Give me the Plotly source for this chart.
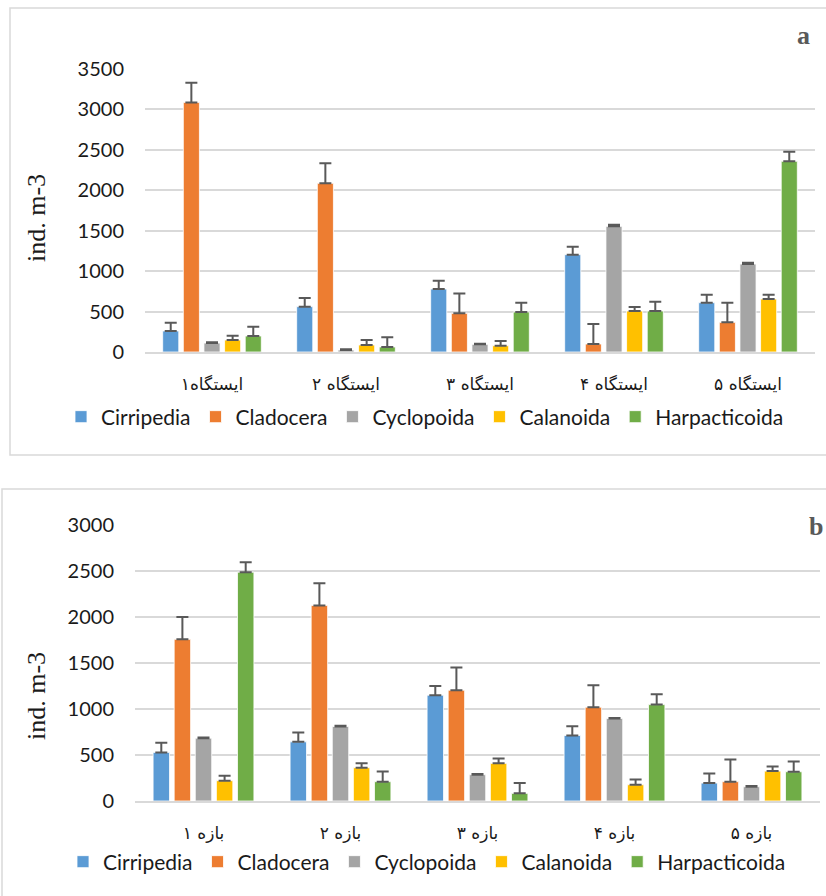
import plotly.graph_objects as go

# ---------------- data ----------------
series = ["Cirripedia", "Cladocera", "Cyclopoida", "Calanoida", "Harpacticoida"]
colors = ["#5B9BD5", "#ED7D31", "#A5A5A5", "#FFC000", "#70AD47"]

stations_a = ["ایستگاه۱", "ایستگاه ۲", "ایستگاه ۳", "ایستگاه ۴", "ایستگاه ۵"]
a_cirripedia = [260, 561, 779, 1204, 610]
a_cladocera = [3087, 2086, 478, 99, 367]
a_cyclopoida = [111, 25, 95, 1554, 1088]
a_calanoida = [148, 87, 78, 507, 655]
a_harpacticoida = [198, 62, 495, 507, 2358]
a_err_cirripedia = [103, 107, 103, 99, 99]
a_err_cladocera = [244, 247, 247, 247, 243]
a_err_cyclopoida = [9, 8, 8, 21, 17]
a_err_calanoida = [54, 61, 58, 49, 54]
a_err_harpacticoida = [115, 119, 115, 115, 119]

ranges_b = ["بازه ۱", "بازه ۲", "بازه ۳", "بازه ۴", "بازه ۵"]
b_cirripedia = [528, 643, 1150, 712, 195]
b_cladocera = [1757, 2126, 1204, 1020, 210]
b_cyclopoida = [683, 810, 286, 897, 155]
b_calanoida = [221, 362, 409, 177, 325]
b_harpacticoida = [2487, 210, 83, 1048, 318]
b_err_cirripedia = [105, 102, 101, 101, 105]
b_err_cladocera = [242, 242, 246, 238, 242]
b_err_cyclopoida = [7, 7, 7, 5, 8]
b_err_calanoida = [54, 47, 54, 58, 51]
b_err_harpacticoida = [109, 112, 112, 112, 112]

a_vals = [a_cirripedia, a_cladocera, a_cyclopoida, a_calanoida, a_harpacticoida]
a_errs = [a_err_cirripedia, a_err_cladocera, a_err_cyclopoida, a_err_calanoida, a_err_harpacticoida]
b_vals = [b_cirripedia, b_cladocera, b_cyclopoida, b_calanoida, b_harpacticoida]
b_errs = [b_err_cirripedia, b_err_cladocera, b_err_cyclopoida, b_err_calanoida, b_err_harpacticoida]

W, H = 826, 896
def px(x):
    return x / W
def py(y):
    return 1 - y / H

fig = go.Figure()
err_style = dict(type="data", symmetric=False, color="#595959", thickness=2, width=6)

for name, col, v, e in zip(series, colors, a_vals, a_errs):
    fig.add_trace(go.Bar(
        x=stations_a, y=v, name=name, marker=dict(color=col, line=dict(color="white", width=0.8)),
        error_y=dict(array=e, arrayminus=[0] * len(e), **err_style),
        xaxis="x", yaxis="y", legend="legend"))

for name, col, v, e in zip(series, colors, b_vals, b_errs):
    fig.add_trace(go.Bar(
        x=ranges_b, y=v, name=name, marker=dict(color=col, line=dict(color="white", width=0.8)),
        error_y=dict(array=e, arrayminus=[0] * len(e), **err_style),
        xaxis="x2", yaxis="y2", legend="legend2"))

tick_font = dict(family="Lato", size=20, color="#1a1a1a")
xtick_font = dict(family="DejaVu Sans", size=17, color="#1a1a1a")
grid = "#D9D9D9"

fig.update_layout(
    width=W, height=H,
    margin=dict(l=0, r=0, t=0, b=0, autoexpand=False),
    paper_bgcolor="white", plot_bgcolor="white",
    barmode="group", bargap=0.23, bargroupgap=0.22,
    xaxis=dict(domain=[px(145), px(815)], anchor="y", showgrid=False, showline=True,
               linecolor=grid, linewidth=1.5, tickfont=xtick_font, ticks="",
               ticklabelstandoff=16, automargin=False),
    yaxis=dict(domain=[py(352), py(69)], anchor="x", range=[0, 3500], dtick=500,
               showgrid=True, gridcolor=grid, gridwidth=1.5, zeroline=False,
               showline=False, tickfont=tick_font, ticklabelstandoff=20, automargin=False),
    xaxis2=dict(domain=[px(135), px(820)], anchor="y2", showgrid=False, showline=True,
                linecolor=grid, linewidth=1.5, tickfont=xtick_font, ticks="",
                ticklabelstandoff=16, automargin=False),
    yaxis2=dict(domain=[py(801), py(525)], anchor="x2", range=[0, 3000], dtick=500,
                showgrid=True, gridcolor=grid, gridwidth=1.5, zeroline=False,
                showline=False, tickfont=tick_font, ticklabelstandoff=20, automargin=False),
    legend=dict(orientation="h", x=px(425), xanchor="center", y=py(417), yanchor="middle",
                font=dict(family="Lato", size=21, color="#1a1a1a"), itemwidth=30,
                bgcolor="rgba(0,0,0,0)"),
    legend2=dict(orientation="h", x=px(427), xanchor="center", y=py(862), yanchor="middle",
                 font=dict(family="Lato", size=21, color="#1a1a1a"), itemwidth=30,
                 bgcolor="rgba(0,0,0,0)"),
    shapes=[
        dict(type="rect", xref="paper", yref="paper", x0=px(10), x1=px(840), y0=py(455), y1=py(8),
             line=dict(color=grid, width=1.5), fillcolor="rgba(0,0,0,0)", layer="below"),
        dict(type="rect", xref="paper", yref="paper", x0=px(2), x1=px(840), y0=py(910), y1=py(489),
             line=dict(color=grid, width=1.5), fillcolor="rgba(0,0,0,0)", layer="below"),
    ],
    annotations=[
        dict(text="ind. m-3", xref="paper", yref="paper", x=px(37), y=py(218), textangle=-90,
             showarrow=False, font=dict(family="Liberation Serif", size=26, color="#1a1a1a"),
             xanchor="center", yanchor="middle"),
        dict(text="ind. m-3", xref="paper", yref="paper", x=px(36), y=py(696), textangle=-90,
             showarrow=False, font=dict(family="Liberation Serif", size=26, color="#1a1a1a"),
             xanchor="center", yanchor="middle"),
        dict(text="<b>a</b>", xref="paper", yref="paper", x=px(803), y=py(35), showarrow=False,
             font=dict(family="Liberation Serif", size=26, color="#595959"),
             xanchor="center", yanchor="middle"),
        dict(text="<b>b</b>", xref="paper", yref="paper", x=px(825), y=py(526), showarrow=False,
             font=dict(family="Liberation Serif", size=26, color="#595959"),
             xanchor="right", yanchor="middle"),
    ],
)

fig.write_html("out.html", config={"displayModeBar": False},
               post_script="document.body.style.margin='0';")
